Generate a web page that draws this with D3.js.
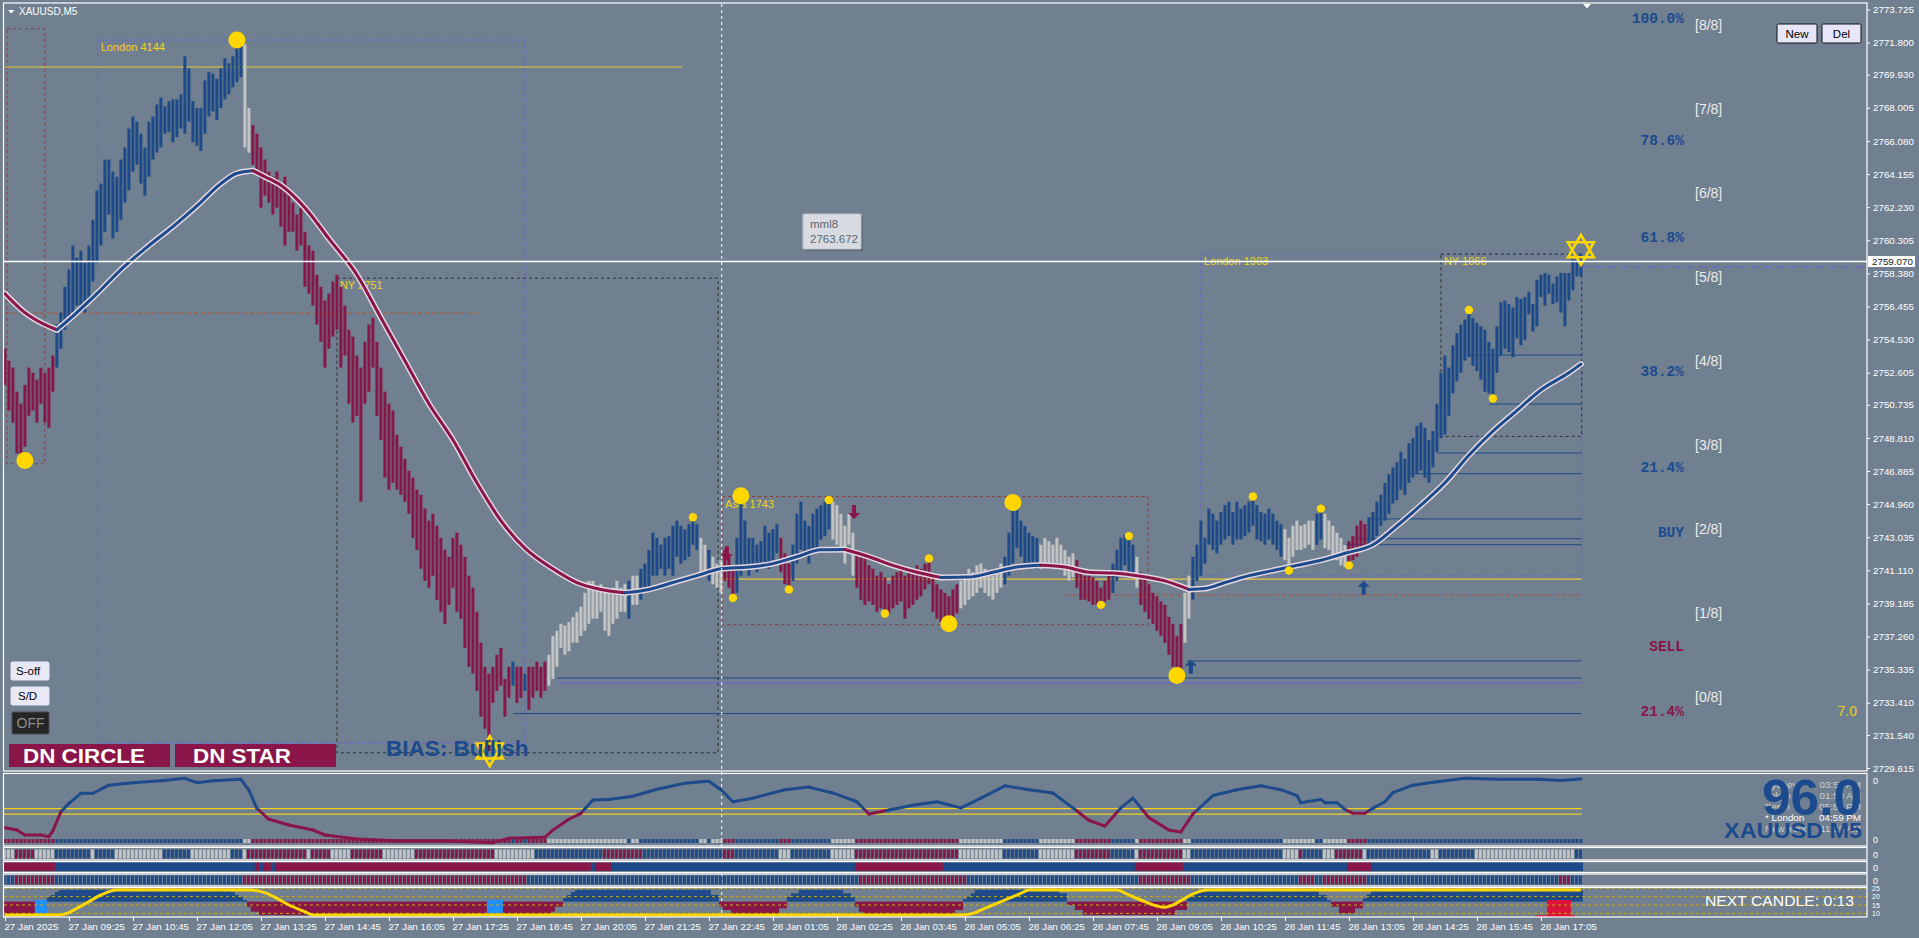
<!DOCTYPE html>
<html><head><meta charset="utf-8">
<script src="https://cdn.jsdelivr.net/npm/d3@7"></script>
<style>
html,body{margin:0;padding:0;background:#708090;overflow:hidden;}
svg{display:block;}
</style></head><body>
<svg id="c" width="1919" height="938"></svg>
<script>
// ---------------- DATA ----------------
const priceTicks = [2773.725,2771.800,2769.930,2768.005,2766.080,2764.155,2762.230,2760.305,2758.380,2756.455,2754.530,2752.605,2750.735,2748.810,2746.885,2744.960,2743.035,2741.110,2739.185,2737.260,2735.335,2733.410,2731.540,2729.615];
const timeTickIdx = [0,16,32,48,64,80,96,112,128,144,160,176,192,208,224,240,256,272,288,304,320,336,352,368,384];
const timeLabels = ["27 Jan 2025","27 Jan 09:25","27 Jan 10:45","27 Jan 12:05","27 Jan 13:25","27 Jan 14:45","27 Jan 16:05","27 Jan 17:25","27 Jan 18:45","27 Jan 20:05","27 Jan 21:25","27 Jan 22:45","28 Jan 01:05","28 Jan 02:25","28 Jan 03:45","28 Jan 05:05","28 Jan 06:25","28 Jan 07:45","28 Jan 09:05","28 Jan 10:25","28 Jan 11:45","28 Jan 13:05","28 Jan 14:25","28 Jan 15:45","28 Jan 17:05"];

const barHigh = [
2754.0,2753.3,2752.9,2751.5,2750.8,2751.9,2752.9,2752.6,2752.2,2752.9,
2752.6,2752.9,2753.6,2755.4,2756.1,2757.6,2758.6,2760.0,2759.3,2759.7,
2759.0,2760.0,2761.5,2763.2,2763.6,2765.0,2765.0,2764.3,2764.0,2765.0,
2765.7,2766.8,2767.5,2767.2,2766.5,2765.7,2767.2,2767.5,2768.2,2768.6,
2768.1,2768.4,2768.5,2768.5,2768.8,2771.0,2770.3,2768.4,2768.0,2768.0,
2769.6,2770.1,2770.0,2769.7,2770.3,2770.9,2770.6,2771.0,2771.95,2771.7,
2771.7,2768.0,2767.0,2766.5,2765.7,2765.0,2764.3,2764.0,2764.3,2763.6,
2764.0,2763.2,2762.5,2761.8,2762.2,2760.8,2760.0,2759.7,2758.3,2757.6,
2756.8,2757.2,2757.9,2758.3,2757.6,2756.5,2755.1,2754.7,2753.6,2752.9,
2754.4,2755.4,2755.8,2754.4,2752.9,2751.5,2750.8,2750.4,2749.0,2748.3,
2747.6,2746.9,2746.5,2745.8,2745.5,2744.7,2744.0,2744.4,2743.7,2743.0,
2742.3,2741.9,2743.0,2743.3,2742.6,2741.9,2740.8,2740.1,2738.7,2736.9,
2735.5,2735.1,2735.5,2736.2,2736.6,2734.8,2735.5,2735.8,2735.5,2735.5,
2735.1,2735.5,2735.5,2735.8,2735.5,2735.8,2736.2,2737.3,2737.6,2738.0,
2737.9,2738.1,2738.4,2738.7,2739.0,2739.8,2740.5,2740.5,2740.1,2740.3,
2740.1,2739.8,2740.1,2740.5,2740.1,2740.3,2740.5,2740.8,2740.8,2741.2,
2741.5,2742.3,2743.3,2743.0,2742.6,2743.0,2743.1,2743.7,2744.0,2743.7,
2743.5,2743.8,2744.2,2743.8,2743.0,2742.6,2742.3,2741.9,2741.5,2741.7,
2742.3,2741.9,2741.4,2743.0,2745.5,2744.0,2743.0,2743.0,2742.6,2742.8,
2743.7,2743.3,2743.5,2743.8,2743.0,2742.1,2741.5,2742.6,2744.4,2745.1,
2744.0,2743.7,2744.4,2744.7,2744.9,2745.1,2745.2,2745.1,2744.9,2744.4,
2743.7,2744.4,2743.3,2742.3,2741.9,2741.9,2741.4,2741.2,2740.8,2741.0,
2740.7,2740.3,2740.8,2741.0,2741.2,2740.8,2741.0,2741.2,2741.4,2741.2,
2741.5,2741.8,2740.8,2740.3,2740.0,2739.8,2739.6,2740.0,2740.3,2740.5,
2740.8,2741.2,2741.0,2741.4,2741.5,2741.2,2741.0,2740.8,2741.2,2741.5,
2741.9,2743.3,2745.1,2744.7,2744.0,2743.7,2743.3,2743.1,2743.0,2742.6,
2743.0,2742.8,2742.6,2743.0,2742.6,2742.3,2741.9,2742.1,2741.7,2741.2,
2740.8,2740.8,2740.7,2740.5,2740.1,2740.5,2740.8,2741.5,2742.3,2743.0,
2743.2,2743.1,2742.6,2741.9,2741.0,2740.7,2740.3,2739.8,2739.6,2739.3,
2739.1,2738.4,2738.0,2737.3,2738.0,2739.8,2740.8,2741.9,2742.6,2744.0,
2743.0,2744.7,2744.4,2744.0,2744.5,2744.9,2745.1,2744.5,2745.1,2744.7,
2744.9,2745.1,2745.4,2744.9,2744.5,2744.4,2744.7,2744.4,2744.0,2743.8,
2743.5,2743.0,2743.7,2744.0,2743.7,2743.8,2744.0,2744.0,2744.4,2744.7,
2744.4,2744.0,2743.7,2743.3,2743.0,2742.6,2742.8,2743.1,2743.7,2744.0,
2743.8,2744.2,2744.5,2745.1,2745.5,2746.2,2746.7,2747.1,2747.4,2748.0,
2747.6,2748.5,2748.8,2749.5,2749.7,2749.4,2748.7,2749.2,2750.8,2752.6,
2753.6,2752.9,2754.2,2754.9,2755.4,2755.7,2756.25,2755.8,2755.5,2755.3,
2755.1,2754.4,2754.0,2755.3,2756.7,2756.8,2756.6,2756.4,2757.0,2756.9,
2757.0,2757.3,2756.6,2758.0,2758.3,2758.4,2758.3,2757.8,2758.2,2758.4,
2758.4,2758.4,2759.2,2759.3,2759.5];
const barLow = [
2751.9,2750.4,2749.7,2747.9,2747.4,2748.3,2750.1,2750.4,2749.7,2750.8,
2749.7,2749.4,2751.5,2752.9,2754.0,2755.1,2755.8,2756.1,2756.5,2756.5,
2756.1,2756.8,2757.9,2759.0,2760.0,2760.8,2761.8,2760.4,2760.8,2761.5,
2762.5,2763.2,2764.3,2764.7,2763.6,2762.9,2764.0,2765.0,2765.4,2765.7,
2766.5,2766.6,2766.0,2766.3,2766.8,2766.5,2767.2,2766.0,2765.8,2765.5,
2766.5,2767.5,2767.8,2767.3,2768.0,2768.5,2768.8,2769.2,2769.5,2769.8,
2765.7,2765.4,2764.7,2764.3,2762.2,2762.9,2762.5,2761.8,2762.2,2761.1,
2760.0,2760.8,2760.8,2759.7,2760.0,2757.6,2757.2,2756.5,2755.4,2754.4,
2752.9,2754.0,2754.7,2755.1,2752.9,2753.6,2750.8,2749.7,2750.1,2745.1,
2750.8,2751.5,2752.9,2750.1,2748.7,2746.5,2745.8,2746.2,2745.8,2745.5,
2745.1,2744.4,2743.0,2742.3,2741.2,2740.5,2740.1,2740.8,2739.4,2738.7,
2738.0,2739.1,2740.1,2738.7,2738.3,2736.6,2735.5,2735.1,2734.1,2732.6,
2731.9,2730.6,2733.4,2734.1,2734.4,2732.6,2733.7,2734.4,2733.4,2733.7,
2734.1,2733.0,2733.7,2734.1,2733.7,2734.1,2734.4,2734.8,2735.5,2736.6,
2736.2,2736.4,2736.9,2736.9,2737.3,2737.6,2738.0,2738.3,2738.3,2738.7,
2737.6,2737.3,2738.0,2738.3,2738.7,2738.7,2738.3,2739.1,2739.1,2739.4,
2739.8,2740.1,2740.8,2740.8,2741.2,2740.8,2741.2,2740.8,2741.9,2741.5,
2741.7,2741.9,2742.6,2742.3,2740.8,2740.8,2740.5,2740.3,2740.1,2739.8,
2740.5,2740.1,2739.5,2739.8,2740.8,2741.2,2740.8,2741.2,2741.0,2741.4,
2741.5,2741.2,2741.7,2742.1,2741.0,2740.3,2740.0,2740.5,2741.5,2742.3,
2741.9,2741.5,2742.3,2742.4,2742.9,2743.1,2743.5,2742.9,2742.6,2742.4,
2741.5,2742.6,2740.8,2740.1,2739.4,2739.1,2739.3,2739.1,2738.7,2738.9,
2738.7,2738.6,2738.9,2739.1,2739.3,2738.3,2738.9,2739.1,2739.4,2739.6,
2740.0,2740.3,2738.7,2738.3,2738.1,2737.9,2738.0,2738.3,2738.6,2738.9,
2739.1,2739.4,2739.6,2739.8,2740.1,2739.8,2739.6,2739.4,2739.8,2740.1,
2740.3,2740.8,2741.5,2742.4,2741.9,2741.5,2741.5,2741.4,2741.2,2741.2,
2741.5,2741.4,2741.2,2741.5,2741.4,2740.8,2740.5,2740.7,2740.1,2739.4,
2739.4,2739.3,2739.1,2739.1,2739.1,2739.3,2739.4,2739.8,2740.5,2740.8,
2741.4,2741.0,2740.7,2740.1,2739.1,2738.7,2738.3,2738.0,2737.6,2737.3,
2736.9,2736.2,2735.5,2735.0,2735.3,2736.9,2738.3,2739.4,2740.5,2740.8,
2741.5,2742.6,2742.3,2742.1,2742.6,2742.9,2743.1,2742.6,2742.9,2742.9,
2743.1,2743.3,2743.7,2742.9,2742.8,2742.6,2742.9,2742.6,2742.3,2741.9,
2741.7,2741.1,2741.9,2742.3,2742.3,2742.4,2742.6,2742.3,2742.6,2742.9,
2742.4,2742.3,2741.9,2741.7,2741.4,2741.3,2741.4,2741.7,2741.9,2742.3,
2742.6,2742.6,2742.8,2743.1,2743.7,2744.0,2744.4,2745.0,2745.2,2745.8,
2745.5,2746.2,2746.5,2746.7,2746.9,2746.5,2746.2,2747.1,2748.0,2748.8,
2749.0,2750.1,2751.4,2752.1,2752.6,2753.3,2753.5,2753.0,2752.7,2752.2,
2751.5,2751.4,2751.1,2752.6,2753.6,2754.0,2753.8,2753.5,2754.6,2754.2,
2754.5,2756.0,2755.0,2755.3,2757.0,2756.5,2757.2,2756.6,2756.7,2756.1,
2755.3,2756.8,2757.4,2758.2,2758.2];
// bar state: b = bull, r = bear, g = neutral  [firstBar, lastBar, state]
const barStateRuns = [[0,12,'r'],[13,59,'b'],[60,61,'g'],[62,126,'r'],[127,127,'b'],[128,129,'r'],[130,130,'b'],[131,135,'r'],[136,155,'g'],[156,156,'b'],[157,158,'g'],[159,173,'b'],[174,175,'g'],[176,176,'b'],[177,179,'g'],[180,182,'r'],[183,193,'b'],[194,196,'r'],[197,206,'b'],[207,212,'g'],[213,238,'r'],[239,249,'g'],[250,258,'b'],[259,267,'g'],[268,276,'r'],[277,282,'b'],[283,283,'g'],[284,294,'r'],[295,296,'g'],[297,319,'b'],[320,327,'g'],[328,329,'b'],[330,335,'g'],[336,340,'r'],[341,394,'b']];

// moving average (read at key bars)
const maIdx = [0,5,10,13,17,23,29,36,42,48,54,58,62,65,69,75,81,88,94,100,106,112,118,124,130,137,143,149,155,161,167,173,179,186,192,198,204,210,216,222,228,234,241,247,253,259,265,271,277,283,290,296,300,305,311,317,323,329,335,342,348,354,360,366,372,378,384,391,394];
const maVal = [2757.2,2756.1,2755.4,2755.1,2755.9,2757.2,2758.6,2760.0,2761.1,2762.3,2763.6,2764.2,2764.35,2764.0,2763.5,2762.2,2760.4,2758.3,2755.8,2753.3,2750.8,2748.7,2746.2,2744.0,2742.4,2741.2,2740.4,2740.0,2739.8,2740.0,2740.4,2740.8,2741.2,2741.3,2741.5,2741.9,2742.3,2742.32,2741.9,2741.4,2741.0,2740.7,2740.72,2741.0,2741.3,2741.4,2741.3,2741.0,2740.95,2740.8,2740.5,2740.0,2740.05,2740.4,2740.8,2741.1,2741.4,2741.7,2742.1,2742.6,2743.7,2744.9,2746.2,2747.8,2749.2,2750.4,2751.6,2752.6,2753.1];

// swing markers [bar, price, size]
const swings = [[5,2747.5,'L'],[58,2771.95,'L'],[184,2745.45,'L'],[252,2745.05,'L'],[236,2738.0,'L'],[293,2735.0,'L'],
 [172,2744.2,'S'],[182,2739.5,'S'],[196,2740.0,'S'],[206,2745.2,'S'],[220,2738.6,'S'],[231,2741.8,'S'],[274,2739.1,'S'],[281,2743.1,'S'],[312,2745.4,'S'],[321,2741.1,'S'],[329,2744.7,'S'],[336,2741.4,'S'],[366,2756.25,'S'],[372,2751.1,'S']];
const arrows = [[180.5,2742.1,'down'],[212.3,2744.5,'down'],[296.5,2735.5,'up'],[339.7,2740.1,'up']];
const stars = [[121.2,2730.6],[394,2759.75]];

// sessions [kind, label, firstBar, lastBar, high, low]
const sessions = [
 ['asia','',0.5,10,2772.6,2747.3],
 ['london','London 4144',23.2,130,2771.95,2731.07],
 ['ny','NY 2751',83,178.3,2758.1,2730.5],
 ['asia','Asia 1743',179.3,285.8,2745.4,2737.95],
 ['london','London 1903',299,394.2,2759.5,2740.8],
 ['ny','NY 1066',359,394.2,2759.5,2748.9]
];
// horizontal levels [price, fromBar, toBar, kind]
const levels = [
 [2770.38,0,169.3,'yellow'],[2740.6,179.3,394.2,'yellow'],
 [2756.07,0,118,'brown'],[2739.67,265,394.2,'brown'],
 [2734.85,138,394.2,'blue'],[2732.78,127,394.2,'blue'],[2735.84,295.5,394.2,'blue'],
 [2753.63,366,394.2,'blue'],[2750.78,371,394.2,'blue'],[2747.93,358,394.2,'blue'],
 [2746.73,351,394.2,'blue'],[2744.1,341,394.2,'blue'],[2742.95,338,394.2,'blue'],[2742.6,335,394.2,'blue'],
 [2734.56,138,394.2,'purple']
];
const bidPrice = 2759.07;
const crosshairBar = 179.2;
const murreyLevels = [2734.33,2739.215,2744.10,2748.985,2753.87,2758.755,2763.64,2768.525,2773.41];
const fibLabels = [['100.0%',2773.21,'b'],['78.6%',2766.13,'b'],['61.8%',2760.49,'b'],['38.2%',2752.72,'b'],['21.4%',2747.13,'b'],['BUY',2743.36,'b'],['SELL',2736.73,'r'],['21.4%',2732.93,'r']];

// oscillator panel (key bars)
const oscIdx = [0,3,5,9,11,12,14,16,19,22,26,32,39,45,48,52,59,61,63,66,71,77,80,88,99,110,122,126,135,137,141,144,147,151,157,163,170,174,176,179,182,187,195,201,207,213,216,221,227,233,239,244,250,256,262,267,271,275,279,282,286,291,294,297,302,308,314,319,323,324,329,330,333,335,337,340,342,345,347,352,358,365,373,383,389,394];
const oscVal = [23.5,20,12.3,12.3,9.7,19,48,61,76.5,76.5,89,92.8,95.8,99.5,92.8,95.8,98,81.5,53.4,36.5,27.7,20,12.3,6.2,3,3,0.5,7.2,8.8,20,36.5,45.7,66,67,72,82.6,92,94.3,95,82,63.5,69,82,86,77,63.5,44.6,50.7,58,63.5,54,69,88,82,77,54,35,26,54,69,39,20,17,44.6,73,82,88,82,73,62,67,62,62,51.8,45.7,45.7,53.4,63.5,77.4,89,94.3,99.5,98,98,96,98.5];
const oscLevels = [44.3,52.8];
const oscCurrent = '96.0';

const panel2Runs = [[0,2,'g'],[3,7,'r'],[8,12,'g'],[13,21,'b'],[22,22,'g'],[23,27,'b'],[28,39,'g'],[40,46,'b'],[47,56,'g'],[57,59,'b'],[60,60,'g'],[61,75,'r'],[76,76,'g'],[77,81,'r'],[82,86,'g'],[87,94,'r'],[95,102,'g'],[103,122,'r'],[123,132,'g'],[133,149,'b'],[150,159,'r'],[160,179,'b'],[180,182,'r'],[183,193,'b'],[194,196,'g'],[197,206,'b'],[207,212,'g'],[213,238,'r'],[239,249,'g'],[250,258,'b'],[259,267,'g'],[268,276,'r'],[277,282,'b'],[283,283,'g'],[284,294,'r'],[295,296,'g'],[297,319,'b'],[320,323,'g'],[324,324,'r'],[325,329,'b'],[330,332,'g'],[333,339,'r'],[340,340,'g'],[341,356,'b'],[357,358,'g'],[359,367,'b'],[368,392,'g'],[393,394,'b']];
const panel3Runs = [[0,12,'r'],[13,62,'b'],[63,63,'r'],[64,64,'b'],[65,66,'r'],[67,67,'b'],[68,146,'r'],[147,147,'b'],[148,151,'r'],[152,212,'b'],[213,234,'r'],[235,282,'b'],[283,294,'r'],[295,335,'b'],[336,341,'r'],[342,394,'b']];
const panel4Runs = [[0,2,'b'],[3,12,'r'],[13,59,'b'],[60,130,'r'],[131,213,'b'],[214,240,'r'],[241,283,'b'],[284,296,'r'],[297,323,'b'],[324,327,'r'],[328,329,'b'],[330,340,'r'],[341,388,'b'],[389,391,'r'],[392,394,'b']];

// bottom panel: histogram runs [first,last,value], baseline 17
const histBase = 17;
const histRuns = [[0,10,9],[11,11,19.8],[12,12,21],[13,13,22.8],[14,56,24],[57,57,22.8],[58,58,21],[59,59,19.8],[60,60,18],[61,61,14],[62,63,11],[64,136,9],[137,137,11],[138,139,14],[140,140,19.2],[141,141,21],[142,142,22.8],[143,176,24],[177,178,21],[179,179,14],[180,181,12],[182,193,9.5],[194,195,13],[196,196,19.8],[197,198,22],[199,209,24],[210,211,22],[212,212,19.8],[213,213,14],[214,214,11],[215,237,9],[238,239,12],[240,240,18.5],[241,241,20],[242,242,22],[243,263,24],[264,265,22],[266,267,15],[268,269,12],[270,292,9],[293,295,12],[296,297,21],[298,328,23.5],[329,330,21],[331,331,18],[332,333,14],[334,337,10],[338,339,13],[340,340,19],[341,341,21.5],[342,394,23.5]];
const sigIdx = [0,13,15.5,18,21,24,28,61,65,68,71,75,77,239,242,245,248,251,254,256,278,281,285,288,290,292,295,299,301,394];
const sigVal = [9,9,10,13,17,21,24,24,22.4,19,15,11,9,9,10,13,16,19,22,24,24,21,17,14.4,13.6,15,19,23.4,24,24];
const spikesBlue = [[8,10],[121,124]];
const baseBlue = [[4,10],[119,127]];
const spikesRed = [[386,391]];
const baseRed = [[383,392]];
const panel5Ticks = [25,20,15,10];
const nextCandle = 'NEXT CANDLE: 0:13';
const clockLines = [['Sydney','03:59 AM'],['Tokyo','01:59 AM'],['Berlin','05:59 PM'],['* London','04:59 PM'],['New York','11:59 AM']];

// ---------------- STYLE / LAYOUT ----------------
const COL = {b:'#1d4a8a', r:'#8a1548', g:'#c3c3c3'};
const TXTBLUE = '#1b4a8e', MAROON = '#8a1548', YEL = '#ffd700', BG = '#708090';
const FONT = '"Liberation Sans", Arial, sans-serif';
const W = 1919, H = 938;
const PL = 4, PR = 1867;
const MAIN = {top:4, bot:771};
const P1 = {top:774, bot:846}, P2 = {top:848, bot:860}, P3 = {top:862, bot:872.5}, P4 = {top:874.5, bot:886}, P5 = {top:888, bot:917};

const svg = d3.select('#c');
svg.append('rect').attr('width',W).attr('height',H).attr('fill',BG);
const defs = svg.append('defs');
defs.append('clipPath').attr('id','mc').append('rect').attr('x',PL).attr('y',MAIN.top).attr('width',PR-PL).attr('height',MAIN.bot-MAIN.top);

const x = d3.scaleLinear().domain([0,384]).range([4.9,1540.9]);
const y = d3.scaleLinear().domain([2729.615,2773.725]).range([768,9.5]);
const expand = runs => { const a=[]; runs.forEach(([s,e,v])=>{for(let i=s;i<=e;i++)a[i]=v;}); return a; };
const barState = expand(barStateRuns);
const bars = barHigh.map((h,i)=>({i, h, l:barLow[i], s:barState[i]}));

// ---------- main chart ----------
const g = svg.append('g').attr('clip-path','url(#mc)');

// session boxes
const boxStyle = {asia:{c:'#8c3b3b',d:'3,3'}, london:{c:'#6a5fd6',d:'3,3'}, ny:{c:'#2e2e2e',d:'3,3'}};
sessions.forEach(([k,lab,i0,i1,hi,lo])=>{
  g.append('rect').attr('x',x(i0)).attr('y',y(hi)).attr('width',x(i1)-x(i0)).attr('height',y(lo)-y(hi))
   .attr('fill','none').attr('stroke',boxStyle[k].c).attr('stroke-width',1).attr('stroke-dasharray',boxStyle[k].d);
  if(lab) g.append('text').attr('x',x(i0)+3).attr('y',y(hi)+11).text(lab)
   .attr('fill','#f2d21a').style('font','11px '+FONT);
});
// levels
const lvStyle = {yellow:{c:'#e8c83a',w:1.2,d:null}, brown:{c:'#b0562a',w:1,d:'4,3'}, blue:{c:'#1d4a8a',w:1,d:null}, purple:{c:'#6a5fd6',w:1,d:null}};
levels.forEach(([p,i0,i1,k])=>{
  const l = g.append('line').attr('x1',x(i0)).attr('x2',x(i1)).attr('y1',y(p)).attr('y2',y(p))
   .attr('stroke',lvStyle[k].c).attr('stroke-width',lvStyle[k].w);
  if(lvStyle[k].d) l.attr('stroke-dasharray',lvStyle[k].d);
});
// murrey 5/8 dashed extension
g.append('line').attr('x1',x(394.2)).attr('x2',PR).attr('y1',y(murreyLevels[5])).attr('y2',y(murreyLevels[5]))
 .attr('stroke','#6a5fd6').attr('stroke-width',1).attr('stroke-dasharray','8,5');

// bars
g.selectAll('rect.bar').data(bars).join('rect').attr('class','bar')
 .attr('x',d=>x(d.i)-1.5).attr('width',3)
 .attr('y',d=>y(d.h)).attr('height',d=>Math.max(1,y(d.l)-y(d.h)))
 .attr('fill',d=>COL[d.s]);

// moving average, coloured by direction
const maPts = maIdx.map((d,k)=>({i:d,v:maVal[k]}));
const maRuns=[]; let cur=null;
for(let k=1;k<maPts.length;k++){
  const up = maPts[k].v >= maPts[k-1].v;
  if(!cur || cur.up!==up){cur={up,pts:[maPts[k-1]]}; maRuns.push(cur);}
  cur.pts.push(maPts[k]);
}
const maLine = d3.line().x(d=>x(d.i)).y(d=>y(d.v)).curve(d3.curveMonotoneX);
maRuns.forEach(r=>g.append('path').attr('d',maLine(r.pts)).attr('fill','none').attr('stroke','#e2d6e0').attr('stroke-width',6).attr('stroke-linecap','round'));
maRuns.forEach(r=>g.append('path').attr('d',maLine(r.pts)).attr('fill','none').attr('stroke',r.up?COL.b:COL.r).attr('stroke-width',3).attr('stroke-linecap','round'));

// swing circles
g.selectAll('circle.sw').data(swings).join('circle').attr('class','sw')
 .attr('cx',d=>x(d[0])).attr('cy',d=>y(d[1])).attr('r',d=>d[2]==='L'?8.5:4.2).attr('fill',YEL);

// arrows
arrows.forEach(([i,p,dir])=>{
  const cx=x(i), cy=y(p), s = dir==='up'?1:-1;
  const path = `M${cx},${cy-7*s} L${cx+6},${cy-1*s} L${cx+2},${cy-1*s} L${cx+2},${cy+7*s} L${cx-2},${cy+7*s} L${cx-2},${cy-1*s} L${cx-6},${cy-1*s} Z`;
  g.append('path').attr('d',path).attr('fill',dir==='up'?COL.b:COL.r);
});

// bias text
svg.append('text').attr('x',386).attr('y',756).text('BIAS: Bullish').attr('fill',TXTBLUE)
  .style('font','bold 22.5px '+FONT);
// stars
stars.forEach(([i,p])=>{
  const cx=x(i), cy=y(p);
  [[0,-15,13,7.5,-13,7.5],[0,15,13,-7.5,-13,-7.5]].forEach(t=>{
    g.append('polygon').attr('points',`${cx+t[0]},${cy+t[1]} ${cx+t[2]},${cy+t[3]} ${cx+t[4]},${cy+t[5]}`)
     .attr('fill','none').attr('stroke',YEL).attr('stroke-width',2.6).attr('stroke-linejoin','miter');
  });
});

fibLabels.forEach(([t,p,c])=>{
  svg.append('text').attr('x',1684).attr('y',y(p)+5).attr('text-anchor','end').text(t)
   .attr('fill',c==='b'?TXTBLUE:MAROON).style('font','bold 14.5px "Liberation Mono", monospace');
});
murreyLevels.forEach((p,k)=>{
  svg.append('text').attr('x',1695).attr('y',y(p)+15).text('['+k+'/8]')
   .attr('fill','#ececec').style('font','14px '+FONT);
});
svg.append('text').attr('x',1857).attr('y',y(2732.93)+5).attr('text-anchor','end').text('7.0').attr('fill','#f0cc1a').style('font','14px '+FONT);

// bid line and crosshair
svg.append('line').attr('x1',PL).attr('x2',PR).attr('y1',y(bidPrice)).attr('y2',y(bidPrice)).attr('stroke','#ffffff').attr('stroke-width',1.3);
svg.append('line').attr('x1',x(crosshairBar)).attr('x2',x(crosshairBar)).attr('y1',MAIN.top).attr('y2',P5.bot)
  .attr('stroke','#ffffff').attr('stroke-width',1).attr('stroke-dasharray','3,3');

// tooltip
svg.append('rect').attr('x',805).attr('y',216).attr('width',58).attr('height',35).attr('fill','#4e5a66').attr('opacity',0.5);
svg.append('rect').attr('x',803).attr('y',214).attr('width',58).attr('height',35).attr('fill','#d8dbe1').attr('stroke','#bfc3ca').attr('rx',1);
svg.append('text').attr('x',810).attr('y',228).text('mml8').attr('fill','#5f6672').style('font','11.5px '+FONT);
svg.append('text').attr('x',810).attr('y',243).text('2763.672').attr('fill','#5f6672').style('font','11.5px '+FONT);

// buttons
function button(x0,y0,w,h,t,fill,stroke,tc,fs,tx){
  svg.append('rect').attr('x',x0).attr('y',y0).attr('width',w).attr('height',h).attr('fill',fill).attr('stroke',stroke).attr('rx',1.5);
  svg.append('text').attr('x',tx!=null?tx:x0+w/2).attr('y',y0+h/2+fs*0.36).attr('text-anchor',tx!=null?'start':'middle').text(t).attr('fill',tc).style('font',fs+'px '+FONT);
}
button(1777,24,40,19,'New','#e6e6f8','#111','#000',11.5);
button(1822,24,39,19,'Del','#e6e6f8','#111','#000',11.5);
button(11,662,38,18,'S-off','#e8e8f6','#e8e8f6','#000',11.5,16);
button(11,687,38,18,'S/D','#e8e8f6','#e8e8f6','#000',11.5,18);
button(12,712,37,22,'OFF','#262626','#4a4a4a','#8e8e8e',14);
// DN boxes
[[9,'DN CIRCLE',23,122],[175,'DN STAR',193,98]].forEach(([bx,t,tx,tl])=>{
  svg.append('rect').attr('x',bx).attr('y',744).attr('width',161).attr('height',23).attr('fill','#8a1548');
  svg.append('text').attr('x',tx).attr('y',763).text(t).attr('fill','#ffffff').style('font','bold 21px '+FONT)
   .attr('textLength',tl).attr('lengthAdjust','spacingAndGlyphs');
});

// title
svg.append('path').attr('d','M8,10 L14.5,10 L11.25,13.5 Z').attr('fill','#fff');
svg.append('text').attr('x',19).attr('y',15).text('XAUUSD,M5').attr('fill','#fff').style('font','10px '+FONT);
svg.append('path').attr('d','M1583,4 L1591,4 L1587,8.5 Z').attr('fill','#fff');

// ---------- sub panels ----------
// panel 1: oscillator
const y1 = d3.scaleLinear().domain([0,100]).range([843,778]);
oscLevels.forEach(v=>svg.append('line').attr('x1',PL).attr('x2',x(394.2)).attr('y1',y1(v)).attr('y2',y1(v)).attr('stroke','#f0d020').attr('stroke-width',1.2));
const oPts = oscIdx.map((d,k)=>({i:d,v:oscVal[k]}));
const TH = 50;
for(let k=1;k<oPts.length;k++){
  const a=oPts[k-1], b=oPts[k];
  let pieces=[[a,b]];
  if((a.v-TH)*(b.v-TH)<0){const t=(TH-a.v)/(b.v-a.v); const m={i:a.i+t*(b.i-a.i),v:TH}; pieces=[[a,m],[m,b]];}
  pieces.forEach(([p,q])=>{
    svg.append('line').attr('x1',x(p.i)).attr('y1',y1(p.v)).attr('x2',x(q.i)).attr('y2',y1(q.v))
     .attr('stroke',(p.v+q.v)/2>TH?COL.b:COL.r).attr('stroke-width',3).attr('stroke-linecap','round');
  });
}
// panel 1 state row
svg.selectAll('rect.p1').data(bars).join('rect').attr('class','p1')
 .attr('x',d=>x(d.i)-1.5).attr('width',3).attr('y',839).attr('height',4).attr('fill',d=>COL[d.s]);

// panels 2-4 state rows
function stateRow(runs,top,bot,gap){
  const arr = expand(runs);
  svg.append('g').selectAll('rect').data(arr.map((s,i)=>({i,s}))).join('rect')
   .attr('x',d=>x(d.i)-2).attr('width',gap?3:4.05).attr('y',top).attr('height',bot-top).attr('fill',d=>COL[d.s]);
}
stateRow(panel2Runs,849.5,858.5,true);
stateRow(panel3Runs,862.5,871,false);
stateRow(panel4Runs,875.5,884.5,true);

// panel 5
const y5 = d3.scaleLinear().domain([8,25.6]).range([916.7,887.3]);
const hist = expand(histRuns);
svg.append('g').selectAll('rect').data(hist.map((v,i)=>({i,v}))).join('rect')
 .attr('x',d=>x(d.i)-2).attr('width',4.05)
 .attr('y',d=>y5(Math.max(d.v,histBase))).attr('height',d=>Math.abs(y5(d.v)-y5(histBase)))
 .attr('fill',d=>d.v>histBase?COL.b:COL.r);
spikesBlue.forEach(([a,b])=>svg.append('rect').attr('x',x(a)-2).attr('width',x(b)-x(a)+4).attr('y',y5(18)).attr('height',y5(8)-y5(18)).attr('fill','#1e90ff'));
baseBlue.forEach(([a,b])=>svg.append('rect').attr('x',x(a)-2).attr('width',x(b)-x(a)+4).attr('y',y5(8.9)).attr('height',y5(8)-y5(8.9)).attr('fill','#1e90ff'));
spikesRed.forEach(([a,b])=>svg.append('rect').attr('x',x(a)-2).attr('width',x(b)-x(a)+4).attr('y',y5(18)).attr('height',y5(8)-y5(18)).attr('fill','#dc143c'));
baseRed.forEach(([a,b])=>svg.append('rect').attr('x',x(a)-2).attr('width',x(b)-x(a)+4).attr('y',y5(8.9)).attr('height',y5(8)-y5(8.9)).attr('fill','#dc143c'));
panel5Ticks.forEach(v=>svg.append('line').attr('x1',PL).attr('x2',PR).attr('y1',y5(v)).attr('y2',y5(v)).attr('stroke','#c8ac10').attr('stroke-width',1).attr('stroke-dasharray','3,3'));
const sigLine = d3.line().x(d=>x(d.i)).y(d=>y5(d.v)).curve(d3.curveMonotoneX);
svg.append('path').attr('d',sigLine(sigIdx.map((d,k)=>({i:d,v:sigVal[k]})))).attr('fill','none').attr('stroke',YEL).attr('stroke-width',3);
svg.append('text').attr('x',1854).attr('y',906).attr('text-anchor','end').text(nextCandle).attr('fill','#ffffff').style('font','15px '+FONT).attr('textLength',149).attr('lengthAdjust','spacingAndGlyphs');

// panel 1 overlay texts (clock list partly hidden by the big value, as in the source)
clockLines.forEach(([c,t],k)=>{
  const yy = 788 + k*10.9;
  const col = k===3?'#ffffff':'#c9ced6';
  svg.append('text').attr('x',1765).attr('y',yy).text(c).attr('fill',col).style('font','9.8px '+FONT);
  svg.append('text').attr('x',1861).attr('y',yy).attr('text-anchor','end').text(t).attr('fill',col).style('font','9.8px '+FONT);
});
svg.append('text').attr('x',1862).attr('y',815).attr('text-anchor','end').text(oscCurrent).attr('fill',TXTBLUE).style('font','bold 50px '+FONT).attr('textLength',100).attr('lengthAdjust','spacingAndGlyphs');
svg.append('text').attr('x',1862).attr('y',838).attr('text-anchor','end').text('XAUUSD M5').attr('fill',TXTBLUE).style('font','bold 22px '+FONT).attr('textLength',138).attr('lengthAdjust','spacingAndGlyphs');

// ---------- frames ----------
[[MAIN.top-0.5,MAIN.bot],[P1.top,P1.bot],[P2.top,P2.bot],[P3.top,P3.bot],[P4.top,P4.bot],[P5.top,P5.bot]].forEach(([t,b])=>{
  svg.append('rect').attr('x',PL-0.5).attr('y',t-0.5).attr('width',PR-PL+0.5).attr('height',b-t+0.5)
   .attr('fill','none').attr('stroke','#ffffff').attr('stroke-width',1.2);
});

// ---------- axes ----------
const ya = svg.append('g').attr('transform',`translate(${PR},0)`)
 .call(d3.axisRight(y).tickValues(priceTicks).tickFormat(d3.format('.3f')).tickSize(3).tickPadding(3));
ya.select('.domain').remove();
ya.selectAll('line').attr('stroke','#fff');
ya.selectAll('text').attr('fill','#fff').style('font','9.8px '+FONT);
// bid label
svg.append('rect').attr('x',1868).attr('y',y(bidPrice)-5.5).attr('width',47).attr('height',11).attr('fill','#ffffff');
svg.append('text').attr('x',1872).attr('y',y(bidPrice)+3.5).text(d3.format('.3f')(bidPrice)).attr('fill','#222').style('font','9.8px '+FONT);
// sub-panel scale labels
[[780.5,'0'],[839.5,'0'],[854,'0'],[867,'0'],[880,'0']].forEach(([yy,t])=>
  svg.append('text').attr('x',1873).attr('y',yy+3.5).text(t).attr('fill','#fff').style('font','9px '+FONT));
panel5Ticks.forEach(v=>svg.append('text').attr('x',1872).attr('y',y5(v)+2.5).text(v).attr('fill','#fff').style('font','7px '+FONT));

const xa = svg.append('g').attr('transform',`translate(0,${P5.bot})`)
 .call(d3.axisBottom(x).tickValues(timeTickIdx).tickFormat((d,k)=>timeLabels[k]).tickSize(4).tickPadding(2));
xa.select('.domain').remove();
xa.selectAll('line').attr('stroke','#fff');
xa.selectAll('text').attr('fill','#fff').attr('text-anchor','start').attr('x',-1).style('font','9.8px '+FONT);
</script></body></html>
